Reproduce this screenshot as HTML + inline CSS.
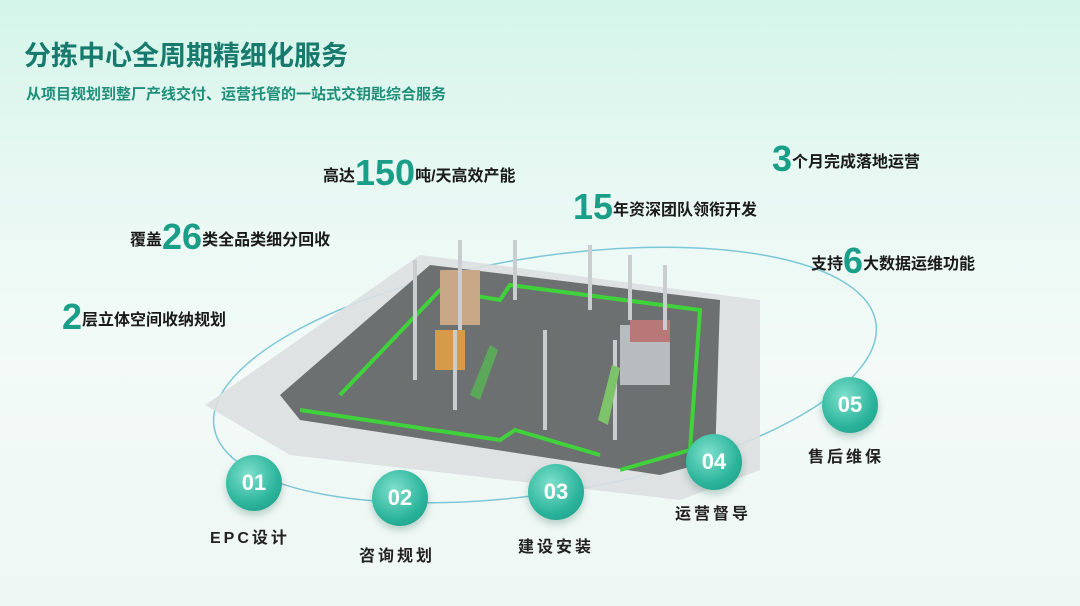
<!DOCTYPE html>
<html><head><meta charset="utf-8"><style>
body{margin:0;width:1080px;height:606px;overflow:hidden;position:relative;font-family:"Liberation Sans","Noto Sans CJK SC",sans-serif;
background:linear-gradient(180deg,#d4f5ea 0%,#e8f8f3 30%,#f3faf8 60%,#eef7f4 100%);}
.t{position:absolute;white-space:nowrap;font-weight:bold;color:#1b1b1b;}
.n{color:#1a9e88;font-size:36px;font-weight:bold;vertical-align:-4px;}
.c{position:absolute;width:56px;height:56px;border-radius:50%;background:radial-gradient(circle at 40% 35%,#7fe0cc,#2bb49b 60%,#1a9681);color:#fff;font-size:22px;font-weight:bold;text-align:center;line-height:56px;box-shadow:0 4px 8px rgba(0,80,60,.25);}
.l{position:absolute;font-size:16px;font-weight:bold;letter-spacing:3px;color:#222;white-space:nowrap;}
</style></head><body>
<div class="t" style="left:24px;top:34px;font-size:27px;color:#177a6d;">分拣中心全周期精细化服务</div>
<div class="t" style="left:26px;top:83px;font-size:15px;color:#1f8f7a;">从项目规划到整厂产线交付、运营托管的一站式交钥匙综合服务</div>
<svg style="position:absolute;left:0;top:0" width="1080" height="606">
<ellipse cx="545" cy="375" rx="335" ry="118" transform="rotate(-9 545 375)" fill="none" stroke="#7cc7d8" stroke-width="1.5"/>
<polygon points="205,405 420,255 760,300 760,470 680,500 290,455" fill="#dcdfe0" opacity=".9"/>
<polygon points="280,395 430,265 720,300 715,460 660,475 300,420" fill="#6d7070"/>
<polyline points="340,395 440,290 500,300 510,285 700,310 690,450 620,470" fill="none" stroke="#3fd23a" stroke-width="4"/>
<polyline points="300,410 500,440 515,430 600,455" fill="none" stroke="#3fd23a" stroke-width="4"/>
<rect x="440" y="270" width="40" height="55" fill="#c9a888"/>
<rect x="620" y="325" width="50" height="60" fill="#b9bcbe"/>
<rect x="630" y="320" width="40" height="22" fill="#b87878"/>
<rect x="435" y="330" width="30" height="40" fill="#d79a4a"/>
<g stroke="#c9cdd0" stroke-width="4">
<line x1="415" y1="260" x2="415" y2="380"/><line x1="460" y1="240" x2="460" y2="330"/><line x1="515" y1="240" x2="515" y2="300"/>
<line x1="590" y1="245" x2="590" y2="310"/><line x1="630" y1="255" x2="630" y2="320"/><line x1="665" y1="265" x2="665" y2="330"/>
<line x1="545" y1="330" x2="545" y2="430"/><line x1="455" y1="330" x2="455" y2="410"/><line x1="615" y1="340" x2="615" y2="440"/></g>
<polygon points="470,395 490,345 498,350 480,400" fill="#5ca85a"/>
<polygon points="598,420 612,365 620,368 608,425" fill="#7cc36a"/>
</svg>
<div class="t" style="left:323px;top:152px;font-size:16px;">高达<span class="n">150</span>吨/天高效产能</div>
<div class="t" style="left:130px;top:216px;font-size:16px;">覆盖<span class="n">26</span>类全品类细分回收</div>
<div class="t" style="left:62px;top:296px;font-size:16px;"><span class="n">2</span>层立体空间收纳规划</div>
<div class="t" style="left:573px;top:186px;font-size:16px;"><span class="n">15</span>年资深团队领衔开发</div>
<div class="t" style="left:772px;top:138px;font-size:16px;"><span class="n">3</span>个月完成落地运营</div>
<div class="t" style="left:811px;top:240px;font-size:16px;">支持<span class="n">6</span>大数据运维功能</div>
<div class="c" style="left:226px;top:455px;">01</div>
<div class="c" style="left:372px;top:470px;">02</div>
<div class="c" style="left:528px;top:464px;">03</div>
<div class="c" style="left:686px;top:434px;">04</div>
<div class="c" style="left:822px;top:377px;">05</div>
<div class="l" style="left:210px;top:524px;">EPC设计</div>
<div class="l" style="left:359px;top:542px;">咨询规划</div>
<div class="l" style="left:518px;top:533px;">建设安装</div>
<div class="l" style="left:675px;top:500px;">运营督导</div>
<div class="l" style="left:808px;top:443px;">售后维保</div>
</body></html>
